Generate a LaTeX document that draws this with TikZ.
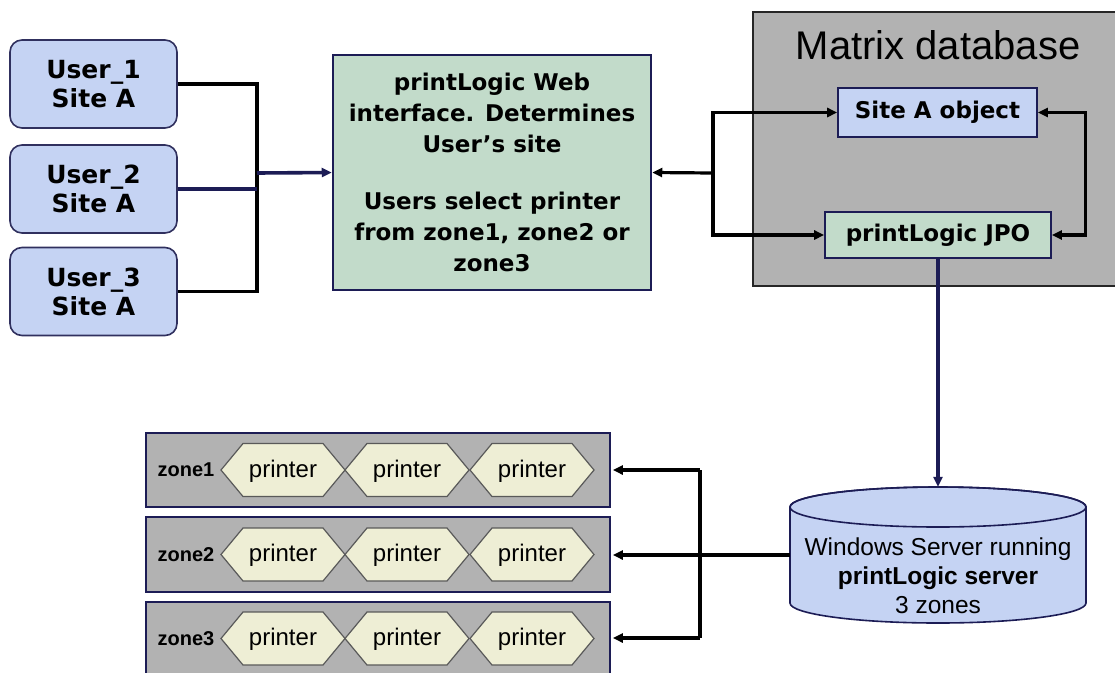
\documentclass[tikz,border=0pt]{standalone}
\usepackage{fontspec}
\setmainfont{Liberation Sans}
\newfontfamily\tah{DejaVu Sans}
\usetikzlibrary{arrows.meta}
\definecolor{ublue}{HTML}{C5D3F3}
\definecolor{ugreen}{HTML}{C2DBCA}
\definecolor{ugray}{HTML}{B2B2B2}
\definecolor{ucream}{HTML}{EEEED5}
\definecolor{navy}{HTML}{1C1C55}
\tikzset{
  tip/.tip={Triangle[length=10pt,width=9pt]},
  conn/.style={line width=3.2pt,black},
  nconn/.style={line width=3.6pt,navy},
  ubox/.style={draw=navy!80!gray,line width=1.6pt,fill=ublue,rounded corners=12pt,
    minimum width=167pt,minimum height=88pt,align=center,inner sep=0pt,
    font=\tah\bfseries\fontsize{25}{29}\selectfont},
  gbox/.style={draw=navy,line width=2.5pt,fill=ugreen,minimum width=318pt,minimum height=235pt,
    align=center,inner sep=0pt,font=\tah\bfseries\fontsize{23}{31}\selectfont},
  sbox/.style={draw=navy,line width=1.6pt,inner sep=0pt,font=\tah\bfseries\fontsize{23}{28}\selectfont},
  zbox/.style={draw=navy,line width=1.6pt,fill=ugray,minimum width=464pt,inner sep=0pt},
  hexdraw/.style={draw=black!65,line width=1.2pt,fill=ucream,line join=miter},
  hextext/.style={inner sep=0pt,font=\fontsize{24}{26}\selectfont},
  zlab/.style={font=\bfseries\fontsize{20}{22}\selectfont,inner sep=0pt},
}
\begin{document}
\begin{tikzpicture}[x=1pt,y=1pt]
\useasboundingbox[fill=white] (0,0) rectangle (1115,-672);
% Matrix database
\node[draw=black!85,line width=2.2pt,fill=ugray,minimum width=372pt,minimum height=274pt,inner sep=0pt] (matrix) at (939,-149) {};
\node[font=\fontsize{40}{44}\selectfont,inner sep=0pt] (mtitle) at (938,-45) {Matrix database};
\node[sbox,fill=ublue,minimum width=199pt,minimum height=49pt] (siteA) at (937.5,-112.5) {Site A object};
\node[sbox,fill=ugreen,minimum width=226pt,minimum height=46pt] (jpo) at (938,-235) {printLogic JPO};
% users
\node[ubox] (u1) at (93.5,-84) {User\_1\\Site A};
\node[ubox] (u2) at (93.5,-189) {User\_2\\Site A};
\node[ubox] (u3) at (93.5,-291.5) {User\_3\\Site A};
% web interface
\node[gbox] (web) at (492,-172.5) {printLogic Web\\interface. Determines\\User’s site\\[26pt]Users select printer\\from zone1, zone2 or\\zone3};
% connectors users
\coordinate (j0) at (257,-173);
\draw[conn] (u1.east) -| (j0);
\draw[conn] (u3.east) -| (j0);
\draw[conn,navy] (u2.east) -- (u2.east -| j0);
\draw[nconn,-tip] (j0) -- (web.west);
% web <-> matrix
\coordinate (j1) at (713,-173);
\draw[conn,-tip] (j1) -- (web.east);
\draw[conn,-tip] (j1) |- (siteA.west);
\draw[conn,-tip] (j1) |- (jpo.west);
\draw[conn,tip-tip] (siteA.east) -- ++(48,0) |- (jpo.east);
% cylinder
\node[minimum width=296pt,minimum height=136pt,inner sep=0pt] (cyl) at (938,-555) {};
\fill[ublue,draw=navy,line width=1.6pt] (790,-507) -- (790,-603)
  arc[start angle=180,end angle=360,x radius=148pt,y radius=20pt] -- (1086,-507)
  arc[start angle=0,end angle=180,x radius=148pt,y radius=20pt] -- cycle;
\draw[navy,line width=1.6pt] (938,-507) ellipse[x radius=148pt,y radius=20pt];
\node[align=center,inner sep=0pt,font=\fontsize{24.5}{29}\selectfont] (cyltext) at (938,-576)
  {Windows Server running\\\textbf{printLogic server}\\3 zones};
\draw[nconn,-tip] (jpo.south) -- (cyl.north);
% zones
\node[zbox,minimum height=74pt] (zone1) at (378,-470) {};
\node[zbox,minimum height=75pt] (zone2) at (378,-554.5) {};
\node[zbox,minimum height=75pt] (zone3) at (378,-639.5) {};
\foreach \z/\y in {1/-470,2/-554.5,3/-638.5}{
  \node[zlab] (zl\z) at (186,\y) {zone\z};
  \foreach \n/\x in {a/283,b/407,c/532}{
    \filldraw[hexdraw] (\x-62,\y) -- ++(22,26.5) -- ++(80,0) -- ++(22,-26.5)
      -- ++(-22,-26.5) -- ++(-80,0) -- cycle;
    \node[hextext] (p\z\n) at (\x,\y-1) {printer};
  }
}
\coordinate (zt) at (700,-470);
\coordinate (zb) at (700,-638);
\draw[conn] (zt) -- (zb);
\draw[conn,-tip,shorten >=2pt] (zt) -- (zone1.east);
\draw[conn,-tip,shorten >=2pt] (cyl.west) -- (zone2.east |- cyl.west);
\draw[conn,-tip,shorten >=2pt] (zb) -- (zone3.east |- zb);
\end{tikzpicture}
\end{document}
